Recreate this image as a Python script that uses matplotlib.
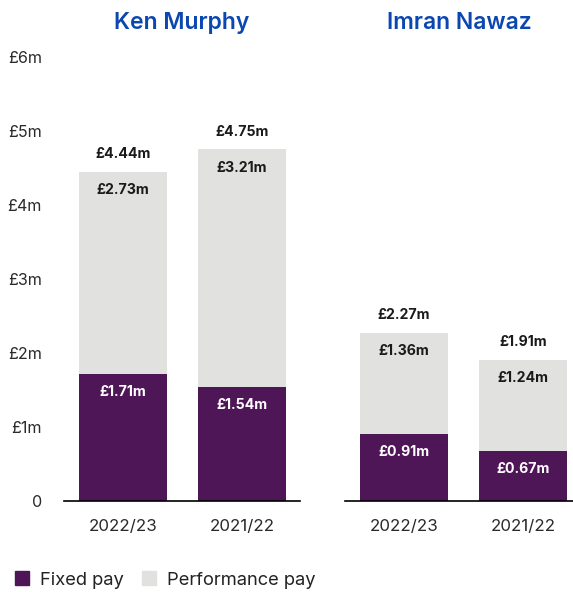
import matplotlib.pyplot as plt
from matplotlib.patches import Patch

years = ["2022/23", "2021/22"]
people = ["Ken Murphy", "Imran Nawaz"]
fixed_pay = {"Ken Murphy": [1.71, 1.54], "Imran Nawaz": [0.91, 0.67]}
perf_pay = {"Ken Murphy": [2.73, 3.21], "Imran Nawaz": [1.36, 1.24]}
total_pay = {"Ken Murphy": [4.44, 4.75], "Imran Nawaz": [2.27, 1.91]}
y_ticks = [0, 1, 2, 3, 4, 5, 6]
y_ticklabels = ["0", "£1m", "£2m", "£3m", "£4m", "£5m", "£6m"]

PURPLE = "#4f1657"
GREY = "#e1e1df"
BLUE = "#0b47b0"
TXT = "#1a1a1a"

plt.rcParams["font.family"] = ["Inter", "DejaVu Sans"]

fig = plt.figure(figsize=(5.73, 5.92), dpi=100)
H = 592
W = 573
bottom = 1 - 501 / H
height = (501 - 57) / H
ax1 = fig.add_axes([64 / W, bottom, (300 - 64) / W, height])
ax2 = fig.add_axes([345 / W, bottom, (573 - 345) / W, height])

px = 444 / 6  # pixels per £1m


def fmt(v):
    return f"£{v:.2f}m"


for ax, name in zip([ax1, ax2], people):
    x = range(len(years))
    fx = fixed_pay[name]
    pf = perf_pay[name]
    tot = total_pay[name]
    ax.bar(x, fx, width=0.74, color=PURPLE, zorder=2)
    ax.bar(x, pf, bottom=fx, width=0.74, color=GREY, zorder=2)
    off = 18 / px
    for i in x:
        ax.text(i, fx[i] - off, fmt(fx[i]), ha="center", va="center",
                color="white", fontsize=10.2, fontweight="bold")
        ax.text(i, fx[i] + pf[i] - off, fmt(pf[i]), ha="center", va="center",
                color=TXT, fontsize=10.2, fontweight="bold")
        ax.text(i, tot[i] + off, fmt(tot[i]), ha="center", va="center",
                color=TXT, fontsize=10.2, fontweight="bold")
    ax.set_ylim(0, 6)
    ax.set_xticks(list(x))
    ax.set_xticklabels(years, fontsize=12.2, color="#2a2a2a")
    ax.tick_params(axis="x", length=0, pad=13)
    ax.tick_params(axis="y", length=0)
    for s in ["top", "right", "left"]:
        ax.spines[s].set_visible(False)
    ax.spines["bottom"].set_color("black")
    ax.spines["bottom"].set_linewidth(1.2)
    ax.set_title(name, color=BLUE, fontsize=16.5, fontweight="semibold", pad=20)

ax1.set_xlim(-0.496, 1.487)
ax2.set_xlim(-0.496, 1.42)
ax1.set_yticks(y_ticks)
ax1.set_yticklabels(y_ticklabels, fontsize=11.6, color="#2a2a2a")
ax1.tick_params(axis="y", pad=16)
ax2.set_yticks([])

handles = [Patch(color=PURPLE, label="Fixed pay"),
           Patch(color=GREY, label="Performance pay")]
leg = fig.legend(handles=handles, loc="center left", bbox_to_anchor=(-0.002, 1 - 580 / H),
                 ncol=2, frameon=False, fontsize=13.2, handlelength=0.75, handleheight=0.75,
                 handletextpad=0.6, columnspacing=1.0)
for t in leg.get_texts():
    t.set_color("#222222")

fig.savefig("out.png", dpi=100)
